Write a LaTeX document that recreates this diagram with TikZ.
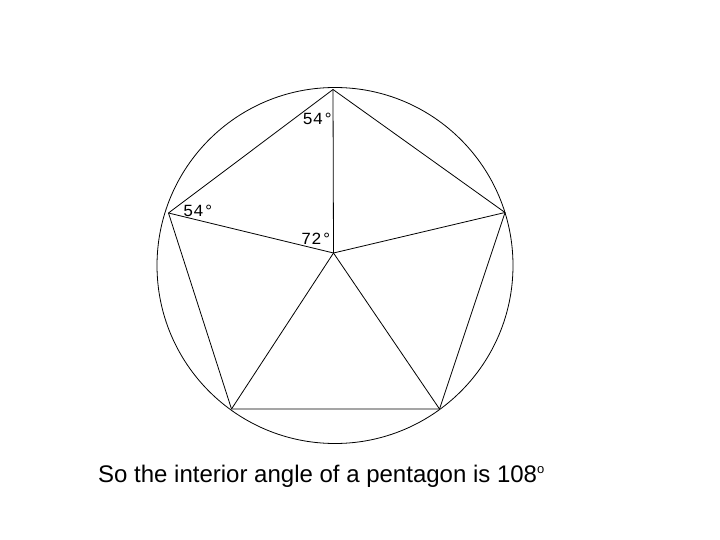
\documentclass[tikz,border=0pt]{standalone}
\usepackage{fontspec}
\setmainfont{Liberation Sans}
\newfontfamily\anglefont{Liberation Mono}
\tikzset{
  edge/.style = {line width=.8pt},
  anglelabel/.style = {font=\anglefont\fontsize{17}{17}\selectfont, inner sep=0pt}
}
\begin{document}
\begin{tikzpicture}[x=1pt, y=-1pt]
    \useasboundingbox (0,0) rectangle (720,540);

    \draw [edge] (335,265.5) circle (178);

    \coordinate (top) at (333,89.5);
    \coordinate (upleft) at (168.5,213);
    \coordinate (upright) at (505,212.5);
    \coordinate (lowleft) at (231.5,409);
    \coordinate (lowright) at (439.5,409);
    \coordinate (centre) at (333.5,253);

    \draw [edge] (top) -- (upright) -- (lowright) -- (lowleft) -- (upleft) -- cycle;
    \foreach \v in {top, upleft, upright, lowleft, lowright}
      \draw [edge] (centre) -- (\v);

    \node [anglelabel] (topangle) at (318,119) {54\textdegree};
    \node [anglelabel] (leftangle) at (198.5,211) {54\textdegree};
    \node [anglelabel] (centreangle) at (316.5,238.5) {72\textdegree};

    \node [anchor=base west, inner sep=0pt, font=\fontsize{24}{24}\selectfont]
      (caption) at (98,482) {So the interior angle of a pentagon is 108\raisebox{8.5pt}{\fontsize{13}{13}\selectfont o}};
  \end{tikzpicture}
\end{document}
